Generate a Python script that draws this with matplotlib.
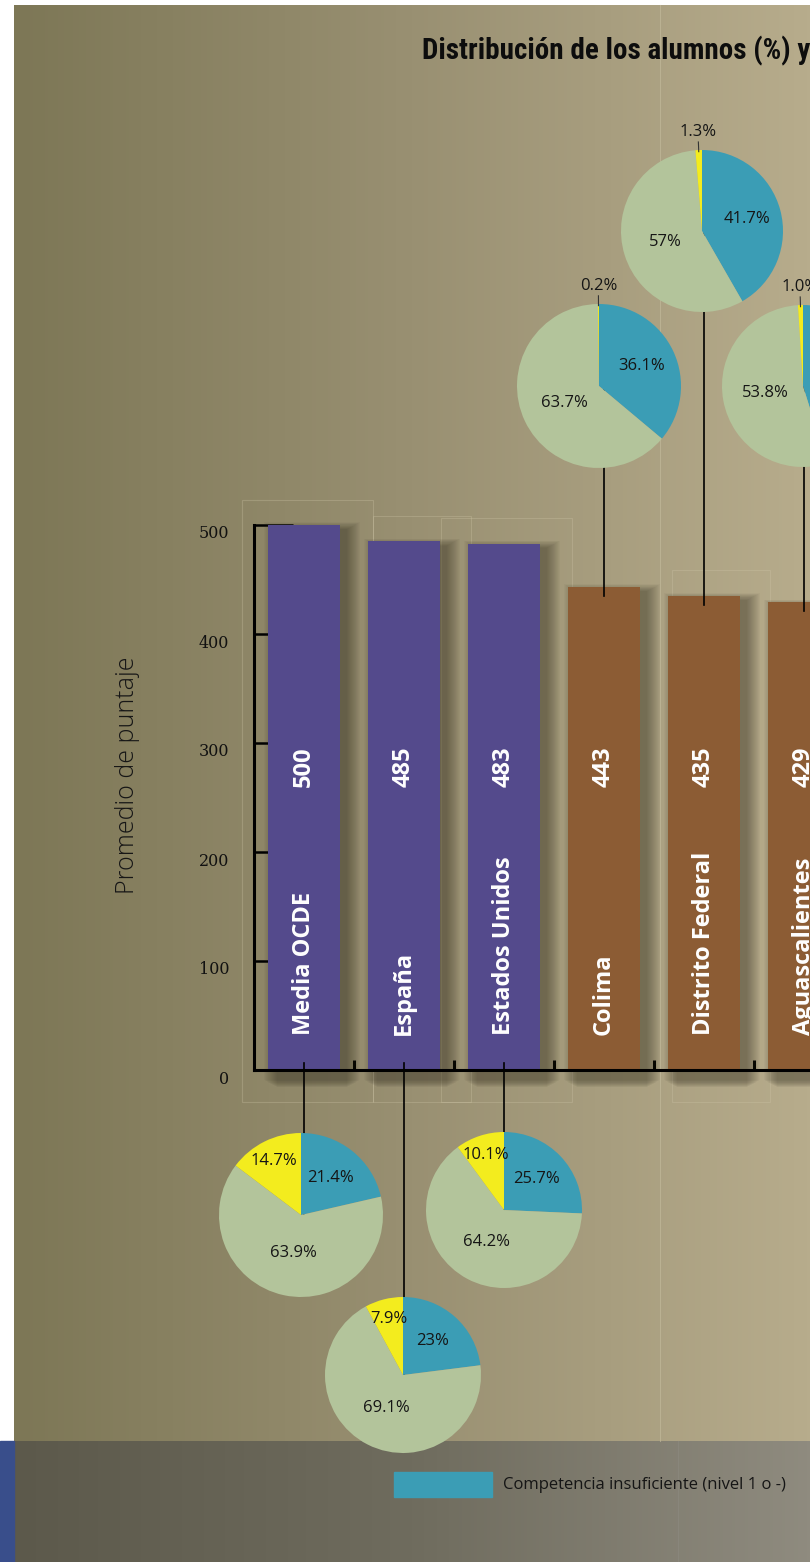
import numpy as np
import matplotlib
matplotlib.use("Agg")
import matplotlib.pyplot as plt
from matplotlib.colors import LinearSegmentedColormap
from matplotlib.patches import Rectangle
from matplotlib.transforms import ScaledTranslation

# ---------------- data ----------------
categories = ["Media OCDE", "España", "Estados Unidos", "Colima", "Distrito Federal", "Aguascalientes"]
scores = [500, 485, 483, 443, 435, 429]
groups = ["int", "int", "int", "mx", "mx", "mx"]
yticks = [0, 100, 200, 300, 400, 500]

pct_insuficiente = [21.4, 23.0, 25.7, 36.1, 41.7, 45.2]   # blue
pct_intermedio = [63.9, 69.1, 64.2, 63.7, 57.0, 53.8]     # green
pct_alto = [14.7, 7.9, 10.1, 0.2, 1.3, 1.0]               # yellow
lbl_insuficiente = ["21.4%", "23%", "25.7%", "36.1%", "41.7%", "45.2%"]
lbl_intermedio = ["63.9%", "69.1%", "64.2%", "63.7%", "57%", "53.8%"]
lbl_alto = ["14.7%", "7.9%", "10.1%", "0.2%", "1.3%", "1.0%"]

title = "Distribución de los alumnos (%) y niveles de competencia"
ylabel = "Promedio de puntaje"
legend_label = "Competencia insuficiente (nivel 1 o -)"

# ---------------- style ----------------
W, H = 810, 1562
BLUE = "#3b9db5"
GREEN = "#b3c49b"
YELLOW = "#f3ec1e"
GROUP_COLORS = {"int": "#544a8c", "mx": "#8c5c34"}
SANS = ["Open Sans", "DejaVu Sans"]
COND = ["Roboto Condensed", "Open Sans Condensed", "Liberation Sans Narrow", "Roboto", "DejaVu Sans"]

# pie layout (pixel centre, radius)
pie_layout = [(301, 1215, 82), (403, 1375, 78), (504, 1210, 78),
              (599, 386, 82), (702, 231, 81), (803, 386, 81)]

fig = plt.figure(figsize=(W / 100, H / 100), dpi=100)
fig.patch.set_facecolor("white")


def px_axes(x0, y0, x1, y1):
    return fig.add_axes([x0 / W, (H - y1) / H, (x1 - x0) / W, (y1 - y0) / H])


# ---------------- background ----------------
bg = fig.add_axes([0, 0, 1, 1])
bg.set_xlim(0, W)
bg.set_ylim(H, 0)
bg.axis("off")
grad = np.linspace(0, 1, 256).reshape(1, -1)
cm_main = LinearSegmentedColormap.from_list("m", ["#7d7756", "#999072", "#b7ac8c"])
cm_band = LinearSegmentedColormap.from_list("b", ["#5c594b", "#6f6c5e", "#8f8b7f"])
bg.imshow(grad, cmap=cm_main, extent=[14, W, 1441, 5], aspect="auto", zorder=0)
bg.imshow(grad, cmap=cm_band, extent=[14, W, H, 1441], aspect="auto", zorder=0)
bg.add_patch(Rectangle((0, 1441), 14, H - 1441, color="#394e8b", zorder=1))
bg.plot([660, 660], [5, 1441], color="#c5bc9e", lw=0.8, alpha=0.6, zorder=1)
bg.plot([678, 678], [1441, H], color="#8e8b80", lw=0.8, alpha=0.6, zorder=1)
for (x0, y0, x1, y1) in [(242, 500, 373, 1102), (373, 516, 471, 1102),
                         (441, 518, 572, 1102), (672, 570, 770, 1102)]:
    bg.add_patch(Rectangle((x0, y0), x1 - x0, y1 - y0, fill=False,
                           ec="#cfc6a8", lw=0.8, alpha=0.3, zorder=1))

bg.text(422, 51, title, ha="left", va="center", fontsize=21, fontweight="bold",
        family=COND, color="#0d0d0d")
bg.text(127, 775, ylabel, rotation=90, ha="center", va="center", fontsize=18,
        fontweight="light", family=SANS, color="#161616")
bg.add_patch(Rectangle((394, 1472), 98, 25, color=BLUE, zorder=2))
bg.text(503, 1485, legend_label, ha="left", va="center", fontsize=12,
        family=SANS, color="#151515")

# ---------------- bar chart ----------------
ax = px_axes(254, 525, 810, 1070)
ax.set_xlim(-0.5, 5.06)
ax.set_ylim(0, 500)
ax.patch.set_alpha(0)
x = np.arange(len(categories))
sc = np.array(scores, dtype=float)

for k in range(14):
    top = sc - 4 + 0.5 * k
    bottom = -16 + 0.5 * k
    ax.bar(x + 0.08, top - bottom, bottom=bottom, width=0.70 + 0.02 * k,
           color="#2e2a1c", alpha=0.035, lw=0, zorder=2, clip_on=False)

ax.bar(x, sc, width=0.72, color=[GROUP_COLORS[g] for g in groups], lw=0, zorder=3)

for s in ["top", "right"]:
    ax.spines[s].set_visible(False)
for s in ["left", "bottom"]:
    ax.spines[s].set_linewidth(2.2)
    ax.spines[s].set_color("black")
    ax.spines[s].set_zorder(6)

ax.set_yticks(yticks)
ax.set_yticklabels([str(v) for v in yticks], family=["DejaVu Serif"], fontsize=11.5,
                   color="#111111")
ax.tick_params(axis="y", direction="in", length=28, width=1.8, pad=18, color="black")
off = ScaledTranslation(0, -7 / 100, fig.dpi_scale_trans)
for lab in ax.get_yticklabels():
    lab.set_transform(lab.get_transform() + off)
ax.set_xticks(np.arange(0.5, len(categories) - 1, 1.0))
ax.tick_params(axis="x", direction="in", length=7, width=2.2, labelbottom=False,
               color="black")

for i, (name, s) in enumerate(zip(categories, scores)):
    ax.text(i, 278, str(s), rotation=90, ha="center", va="center", color="white",
            fontsize=17, fontweight="bold", family=SANS, zorder=5)
    ax.text(i, 32, name, rotation=90, ha="center", va="bottom", color="white",
            fontsize=17, fontweight="bold", family=SANS, zorder=5)

# connector lines from bars to pies
inv = ax.transData.inverted()
for i, ((cx, cy, r), s, g) in enumerate(zip(pie_layout, scores, groups)):
    yc = inv.transform((0, H - cy))[1]
    if g == "mx":
        ax.plot([i, i], [s - 8, yc], color="black", lw=1.2, zorder=4, clip_on=False)
    else:
        ax.plot([i, i], [6, yc], color="black", lw=1.2, zorder=4, clip_on=False)

# ---------------- pies ----------------
for i, (cx, cy, r) in enumerate(pie_layout):
    pa = px_axes(cx - r, cy - r, cx + r, cy + r)
    vals = [pct_insuficiente[i], pct_intermedio[i], pct_alto[i]]
    labs = [lbl_insuficiente[i], lbl_intermedio[i], lbl_alto[i]]
    wedges, _ = pa.pie(vals, colors=[BLUE, GREEN, YELLOW], startangle=90,
                       counterclock=False, radius=1.0,
                       wedgeprops=dict(linewidth=0))
    pa.set_xlim(-1, 1)
    pa.set_ylim(-1, 1)
    pa.axis("off")
    for j, (w, lab) in enumerate(zip(wedges, labs)):
        mid = np.deg2rad((w.theta1 + w.theta2) / 2)
        c, sn = np.cos(mid), np.sin(mid)
        if j == 2 and vals[2] < 3:
            pa.plot([c * 0.98, c * 1.1], [sn * 0.98, sn * 1.1], color="#333333",
                    lw=0.8, clip_on=False)
            pa.text(c * 1.22, sn * 1.22, lab, ha="center", va="center", fontsize=12,
                    family=SANS, color="#151515", clip_on=False)
        else:
            d = {0: 0.58, 1: 0.47, 2: 0.74}[j]
            pa.text(c * d, sn * d, lab, ha="center", va="center", fontsize=12,
                    family=SANS, color="#151515")

fig.savefig("out.png", dpi=100)
